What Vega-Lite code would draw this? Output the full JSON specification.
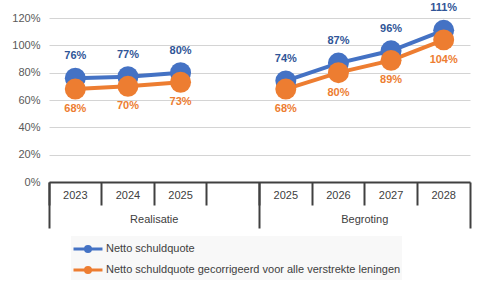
{
  "$schema": "https://vega.github.io/schema/vega-lite/v6.json",
  "width": 421,
  "height": 164,
  "autosize": {"type": "none"},
  "padding": {"left": 49, "top": 18, "right": 11, "bottom": 107},
  "background": "white",
  "config": {
    "font": "Liberation Sans",
    "view": {"stroke": null},
    "axis": {"labelFont": "Liberation Sans", "labelFontSize": 11, "labelColor": "#404040", "title": null}
  },
  "data": {
    "values": [
      {"jaar": "R2023", "fase": "Realisatie", "reeks": "Netto schuldquote", "quote": 0.76},
      {"jaar": "R2024", "fase": "Realisatie", "reeks": "Netto schuldquote", "quote": 0.77},
      {"jaar": "R2025", "fase": "Realisatie", "reeks": "Netto schuldquote", "quote": 0.80},
      {"jaar": "B2025", "fase": "Begroting", "reeks": "Netto schuldquote", "quote": 0.74},
      {"jaar": "B2026", "fase": "Begroting", "reeks": "Netto schuldquote", "quote": 0.87},
      {"jaar": "B2027", "fase": "Begroting", "reeks": "Netto schuldquote", "quote": 0.96},
      {"jaar": "B2028", "fase": "Begroting", "reeks": "Netto schuldquote", "quote": 1.11},
      {"jaar": "R2023", "fase": "Realisatie", "reeks": "Netto schuldquote gecorrigeerd voor alle verstrekte leningen", "quote": 0.68},
      {"jaar": "R2024", "fase": "Realisatie", "reeks": "Netto schuldquote gecorrigeerd voor alle verstrekte leningen", "quote": 0.70},
      {"jaar": "R2025", "fase": "Realisatie", "reeks": "Netto schuldquote gecorrigeerd voor alle verstrekte leningen", "quote": 0.73},
      {"jaar": "B2025", "fase": "Begroting", "reeks": "Netto schuldquote gecorrigeerd voor alle verstrekte leningen", "quote": 0.68},
      {"jaar": "B2026", "fase": "Begroting", "reeks": "Netto schuldquote gecorrigeerd voor alle verstrekte leningen", "quote": 0.80},
      {"jaar": "B2027", "fase": "Begroting", "reeks": "Netto schuldquote gecorrigeerd voor alle verstrekte leningen", "quote": 0.89},
      {"jaar": "B2028", "fase": "Begroting", "reeks": "Netto schuldquote gecorrigeerd voor alle verstrekte leningen", "quote": 1.04}
    ]
  },
  "encoding": {
    "y": {
      "field": "quote", "type": "quantitative",
      "scale": {"domain": [0, 1.2], "nice": false},
      "axis": {
        "values": [0, 0.2, 0.4, 0.6, 0.8, 1.0, 1.2],
        "format": ".0%",
        "domain": false,
        "ticks": false,
        "labelPadding": 9,
        "labelColor": "#595959",
        "gridColor": "#d4d4d4",
        "gridWidth": 1
      }
    }
  },
  "resolve": {"axis": {"x": "independent"}},
  "layer": [
    {
      "mark": {"type": "line", "strokeWidth": 4},
      "encoding": {
        "x": {
          "field": "jaar", "type": "nominal",
          "scale": {"type": "band", "paddingInner": 0, "paddingOuter": 0, "domain": ["R2023", "R2024", "R2025", "R", "B2025", "B2026", "B2027", "B2028"]},
          "axis": {
            "orient": "bottom",
            "labelExpr": "substring(datum.value, 1)",
            "labelAngle": 0,
            "labelBaseline": "middle",
            "labelPadding": -10,
            "bandPosition": 0,
            "tickSize": 23,
            "tickWidth": 2,
            "tickColor": "#404040",
            "domainColor": "#404040",
            "domainWidth": 2,
            "grid": false
          }
        },
        "color": {
          "field": "reeks", "type": "nominal",
          "scale": {
            "domain": ["Netto schuldquote", "Netto schuldquote gecorrigeerd voor alle verstrekte leningen"],
            "range": ["#4472C4", "#ED7D31"]
          },
          "legend": {
            "title": null,
            "orient": "none",
            "legendX": 22,
            "legendY": 218,
            "fillColor": "#f8f8f8",
            "padding": 1,
            "rowPadding": 0,
            "symbolType": "M-1.38,0H1.38M-0.24,0A0.24,0.24 0 1,1 0.24,0A0.24,0.24 0 1,1 -0.24,0Z",
            "symbolSize": 441,
            "symbolStrokeWidth": 3,
            "symbolOffset": 4,
            "labelOffset": 6,
            "labelFontSize": 11,
            "labelColor": "#404040",
            "labelLimit": 400,
            "encode": {
              "symbols": {
                "update": {
                  "fill": {"scale": "color", "field": "value"},
                  "stroke": {"scale": "color", "field": "value"}
                }
              }
            }
          }
        },
        "detail": {"field": "fase"}
      }
    },
    {
      "mark": {"type": "point", "filled": true, "opacity": 1, "size": 440},
      "encoding": {
        "x": {
          "field": "jaar", "type": "nominal",
          "scale": {"type": "band", "paddingInner": 0, "paddingOuter": 0, "domain": ["R2023", "R2024", "R2025", "R", "B2025", "B2026", "B2027", "B2028"]},
          "axis": null
        },
        "color": {"field": "reeks", "type": "nominal", "legend": null}
      }
    },
    {
      "transform": [{"filter": "datum.reeks === 'Netto schuldquote'"}],
      "mark": {"type": "text", "dy": -22, "fontWeight": "bold", "fontSize": 11, "color": "#2F5597", "baseline": "middle"},
      "encoding": {
        "x": {
          "field": "jaar", "type": "nominal",
          "scale": {"type": "band", "paddingInner": 0, "paddingOuter": 0, "domain": ["R2023", "R2024", "R2025", "R", "B2025", "B2026", "B2027", "B2028"]},
          "axis": {
            "orient": "bottom",
            "values": ["R2023", "B2025"],
            "bandPosition": 0,
            "tickSize": 46,
            "tickWidth": 2,
            "tickColor": "#404040",
            "labels": false,
            "domain": false,
            "grid": false
          }
        },
        "text": {"field": "quote", "type": "quantitative", "format": ".0%"}
      }
    },
    {
      "transform": [{"filter": "datum.reeks !== 'Netto schuldquote'"}],
      "mark": {"type": "text", "dy": 20, "fontWeight": "bold", "fontSize": 11, "color": "#ED7D31", "baseline": "middle"},
      "encoding": {
        "x": {
          "field": "jaar", "type": "nominal",
          "scale": {"type": "band", "paddingInner": 0, "paddingOuter": 0, "domain": ["R2023", "R2024", "R2025", "R", "B2025", "B2026", "B2027", "B2028"]},
          "axis": {
            "orient": "bottom",
            "values": ["R2024", "B2026", "B2028"],
            "bandPosition": 1,
            "tickSize": 46,
            "tickWidth": 2,
            "tickColor": "#404040",
            "tickOpacity": {"condition": {"test": "datum.value === 'B2028'", "value": 1}, "value": 0},
            "labelExpr": "datum.value === 'R2024' ? 'Realisatie' : datum.value === 'B2026' ? 'Begroting' : ''",
            "labelAngle": 0,
            "labelBaseline": "middle",
            "labelPadding": -9,
            "labelOffset": 26.3,
            "domain": false,
            "grid": false
          }
        },
        "text": {"field": "quote", "type": "quantitative", "format": ".0%"}
      }
    }
  ]
}
